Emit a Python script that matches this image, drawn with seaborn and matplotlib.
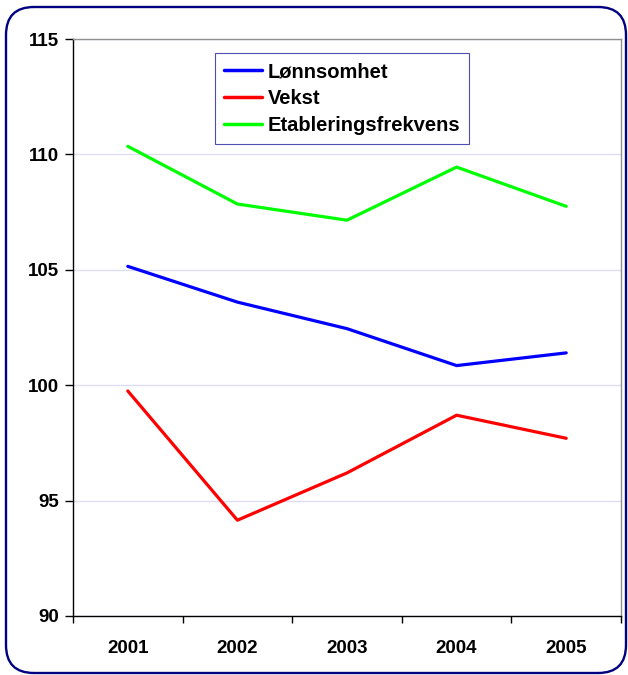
import matplotlib
matplotlib.use("Agg")
import matplotlib.pyplot as plt
from matplotlib.patches import FancyBboxPatch
from matplotlib.transforms import IdentityTransform
import pandas as pd
import seaborn as sns

years = ["2001", "2002", "2003", "2004", "2005"]
lonnsomhet = [105.15, 103.6, 102.45, 100.85, 101.4]
vekst = [99.75, 94.15, 96.2, 98.7, 97.7]
etablering = [110.35, 107.85, 107.15, 109.45, 107.75]
series_names = ["Lønnsomhet", "Vekst", "Etableringsfrekvens"]
colors = ["#0000ff", "#ff0000", "#00ff00"]

df = pd.DataFrame({
    "year": years * 3,
    "value": lonnsomhet + vekst + etablering,
    "series": [series_names[0]] * 5 + [series_names[1]] * 5 + [series_names[2]] * 5,
})

sns.set_style("white")
plt.rcParams["font.family"] = ["Liberation Sans", "DejaVu Sans"]
plt.rcParams["font.weight"] = "bold"
plt.rcParams["text.color"] = "black"
plt.rcParams["xtick.labelcolor"] = "black"
plt.rcParams["ytick.labelcolor"] = "black"

W, H = 628, 675
fig = plt.figure(figsize=(W / 100, H / 100), dpi=100)
ax = fig.add_axes([73 / W, 1 - 616 / H, 548 / W, 577 / H])

# rounded outer frame (pixel coordinates)
frame = FancyBboxPatch((6, 2), 620, 666,
                       boxstyle="round,pad=0,rounding_size=28",
                       transform=IdentityTransform(), facecolor="none",
                       edgecolor="#000080", linewidth=1.7, zorder=0)
fig.patches.append(frame)

sns.lineplot(data=df, x="year", y="value", hue="series", palette=colors,
             linewidth=2.3, ax=ax, sort=False)

ax.set_xlim(-0.5, 4.5)
ax.set_ylim(90, 115)
ax.set_yticks([90, 95, 100, 105, 110, 115])
ax.set_xticks(range(5))
ax.set_xticklabels(years, fontweight="bold")
ax.set_xticks([i - 0.5 for i in range(6)], minor=True)
ax.tick_params(axis="x", which="major", bottom=False, length=0, pad=17, labelsize=13.5)
ax.tick_params(axis="x", which="minor", bottom=True, length=5, width=1, color="black", direction="out")
ax.tick_params(axis="y", left=True, length=6, width=1, color="black", direction="out",
               labelsize=13.5, pad=4)
for lab in ax.get_yticklabels():
    lab.set_fontweight("bold")

ax.yaxis.grid(True, color="#dcdcf5", linewidth=1)
ax.set_axisbelow(True)
ax.set_xlabel("")
ax.set_ylabel("")
for side in ["left", "bottom"]:
    ax.spines[side].set_color("black")
    ax.spines[side].set_linewidth(1)
for side in ["top", "right"]:
    ax.spines[side].set_color("#909090")
    ax.spines[side].set_linewidth(1)

leg = ax.legend(loc="upper left", bbox_to_anchor=((215 - 73) / 548, (616 - 53) / 577),
                frameon=True, fancybox=False, handlelength=1.9, handletextpad=0.25,
                borderpad=0.45, labelspacing=0.4, borderaxespad=0,
                prop={"weight": "bold", "size": 14.5})
leg.get_frame().set_edgecolor("#2020a0")
leg.get_frame().set_linewidth(0.8)
for line in leg.get_lines():
    line.set_linewidth(2.5)

fig.savefig("out.png", dpi=100)
